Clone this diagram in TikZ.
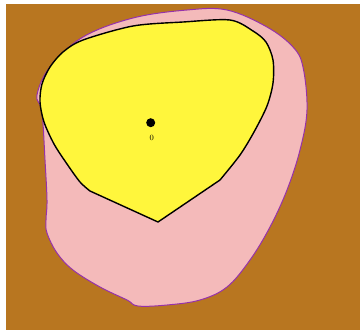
\documentclass[tikz,border=0pt]{standalone}
\usepackage{tikz}
\usetikzlibrary{positioning}

\definecolor{soilbrown}{RGB}{184,118,32}
\definecolor{blobpink}{RGB}{244,186,186}
\definecolor{blobpurple}{RGB}{150,50,170}
\definecolor{coreyellow}{RGB}{255,246,60}

\begin{document}
\begin{tikzpicture}[
    x=1pt,
    y=-1pt,
    outer/.style={
        fill=blobpink,
        draw=blobpurple,
        line width=1pt
      },
    core/.style={
        fill=coreyellow,
        draw=black,
        line width=1.4pt,
        line join=round
      },
    origin/.style={
        circle,
        fill=black,
        inner sep=0pt,
        minimum size=9pt
      }
    ]

    % frame
    \fill[white] (0,0) rectangle (360,330);
    \fill[soilbrown] (6,4) rectangle (360,330);

    % pink region
    \draw[outer] plot[smooth cycle, tension=0.6] coordinates {
        (37,95) (50,67) (83,37) (133,18) (187,10) (227,10) (267,27)
        (293,47) (303,67) (307,110) (300,150) (287,190) (270,227)
        (250,260) (227,287) (200,300) (167,305) (138,306) (127,300)
        (100,287) (73,270) (57,253) (47,233) (46,220) (47,200)
        (45,160) (42,112)};

    % yellow region
    \draw[core] plot[smooth, tension=0.5] coordinates {
        (220,180) (240,155) (254,132) (267,106) (273,83) (273,60)
        (266,42) (253,31) (230,20) (183,22) (133,26) (83,40)
        (63,52) (50,67) (42,84) (40,102) (44,122) (54,144)
        (67,164) (80,182) (90,191)} -- (158,222) -- cycle;

    % origin
    \node[origin] (o) at (150.7,122.7) {};
    \node[font=\fontsize{8}{9}\selectfont, below=4pt of o, xshift=1pt] (olabel) {0};

\end{tikzpicture}
\end{document}
